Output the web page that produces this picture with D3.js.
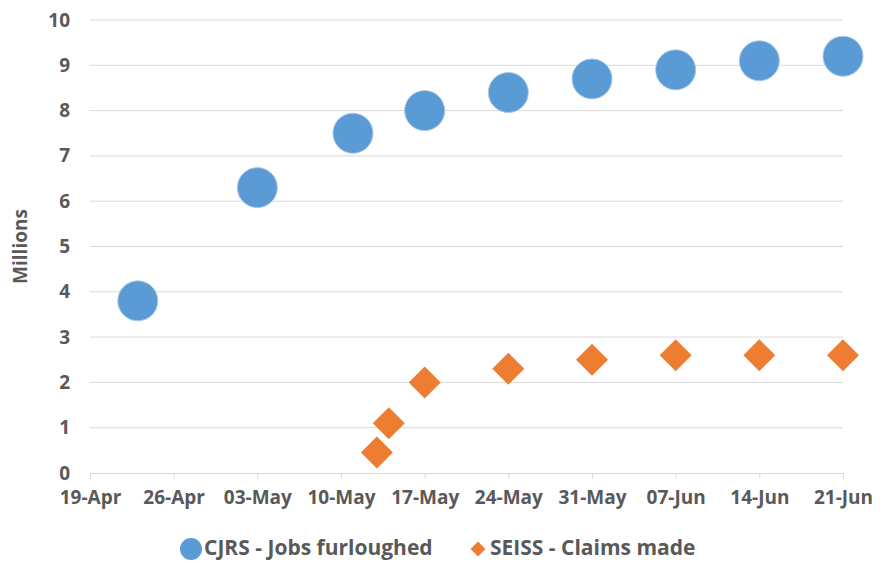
<!DOCTYPE html>
<html>
<head>
<meta charset="utf-8">
<script src="https://cdn.jsdelivr.net/npm/d3@7"></script>
<style>
  body { margin: 0; background: #fff; }
  text { font-family: "Open Sans", "Liberation Sans", sans-serif; font-weight: 700; fill: #595959; }
</style>
</head>
<body>
<div id="chart"></div>
<script>
var svgWidth = 883;
var svgHeight = 562;

var margin = { top: 20, right: 40, bottom: 89, left: 90 };
var width = svgWidth - margin.left - margin.right;
var height = svgHeight - margin.top - margin.bottom;

// data
var cjrsDates = ["2020-04-23", "2020-05-03", "2020-05-11", "2020-05-17", "2020-05-24", "2020-05-31", "2020-06-07", "2020-06-14", "2020-06-21"];
var cjrsValues = [3.8, 6.3, 7.5, 8.0, 8.4, 8.7, 8.9, 9.1, 9.2];
var seissDates = ["2020-05-13", "2020-05-14", "2020-05-17", "2020-05-24", "2020-05-31", "2020-06-07", "2020-06-14", "2020-06-21"];
var seissValues = [0.45, 1.1, 2.0, 2.3, 2.5, 2.6, 2.6, 2.6];
var xTicks = ["2020-04-19", "2020-04-26", "2020-05-03", "2020-05-10", "2020-05-17", "2020-05-24", "2020-05-31", "2020-06-07", "2020-06-14", "2020-06-21"];
var yTicks = [0, 1, 2, 3, 4, 5, 6, 7, 8, 9, 10];
var seriesNames = ["CJRS - Jobs furloughed", "SEISS - Claims made"];

var parse = d3.utcParse("%Y-%m-%d");
var fmt = d3.utcFormat("%d-%b");

var cjrs = cjrsDates.map((d, i) => ({ date: parse(d), value: cjrsValues[i] }));
var seiss = seissDates.map((d, i) => ({ date: parse(d), value: seissValues[i] }));

var svg = d3.select("#chart").append("svg")
  .attr("width", svgWidth)
  .attr("height", svgHeight);

var chartGroup = svg.append("g")
  .attr("transform", `translate(${margin.left}, ${margin.top})`);

var x = d3.scaleUtc()
  .domain([parse(xTicks[0]), parse(xTicks[xTicks.length - 1])])
  .range([0, width]);

var y = d3.scaleLinear()
  .domain([0, 10])
  .range([height, 0]);

// gridlines
chartGroup.append("g")
  .selectAll("line")
  .data(yTicks.filter(d => d > 0))
  .enter().append("line")
  .attr("x1", 0).attr("x2", width)
  .attr("y1", d => y(d)).attr("y2", d => y(d))
  .attr("stroke", "#d9d9d9")
  .attr("stroke-width", 1);

// x axis
var xAxis = chartGroup.append("g")
  .attr("transform", `translate(0, ${height})`)
  .call(d3.axisBottom(x).tickValues(xTicks.map(parse)).tickFormat(fmt).tickSize(6).tickSizeOuter(0).tickPadding(12));
xAxis.selectAll("path, line").attr("stroke", "#d9d9d9");
xAxis.selectAll("text").attr("font-size", "19px").style("font-family", null);

// y axis
var yAxis = chartGroup.append("g")
  .call(d3.axisLeft(y).tickValues(yTicks).tickSize(0).tickPadding(20));
yAxis.select(".domain").remove();
yAxis.selectAll("text").attr("font-size", "19px").style("font-family", null);

chartGroup.append("text")
  .attr("transform", `translate(${27 - margin.left}, ${y(5)}) rotate(-90)`)
  .attr("text-anchor", "middle")
  .attr("font-size", "19px")
  .text("Millions");

// points
chartGroup.selectAll("circle.cjrs")
  .data(cjrs)
  .enter().append("circle")
  .attr("class", "cjrs")
  .attr("cx", d => x(d.date))
  .attr("cy", d => y(d.value))
  .attr("r", 20)
  .attr("fill", "#5b9bd5")
  .attr("stroke", "#a9c8ea")
  .attr("stroke-width", 1);

var diamond = d3.symbol().type(d3.symbolSquare).size(512);
chartGroup.selectAll("path.seiss")
  .data(seiss)
  .enter().append("path")
  .attr("class", "seiss")
  .attr("d", diamond)
  .attr("transform", d => `translate(${x(d.date)}, ${y(d.value)}) rotate(45)`)
  .attr("fill", "#ed7d31");

// legend
var legend = svg.append("g").attr("transform", "translate(0, 548)");
legend.append("circle")
  .attr("cx", 191).attr("cy", 1).attr("r", 11)
  .attr("fill", "#5b9bd5");
legend.append("text")
  .attr("x", 204).attr("y", 0).attr("dy", "0.35em")
  .attr("font-size", "21px")
  .text(seriesNames[0]);
legend.append("path")
  .attr("d", d3.symbol().type(d3.symbolSquare).size(110))
  .attr("transform", "translate(478, 1) rotate(45)")
  .attr("fill", "#ed7d31");
legend.append("text")
  .attr("x", 490).attr("y", 0).attr("dy", "0.35em")
  .attr("font-size", "21px")
  .text(seriesNames[1]);
</script>
</body>
</html>
